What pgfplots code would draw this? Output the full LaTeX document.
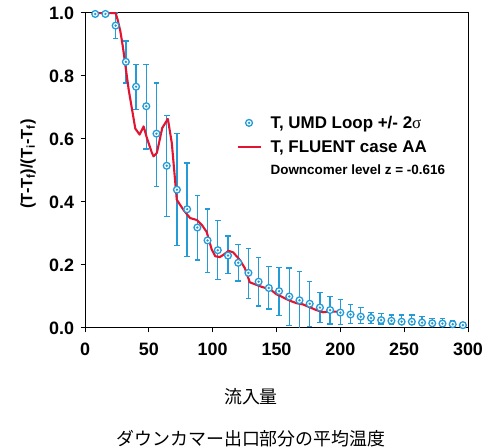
\documentclass[border=0pt]{standalone}
\usepackage{fontspec}
\setmainfont{Liberation Sans}
\newfontfamily\cjk{Noto Sans CJK JP}
\newfontfamily\greek{Liberation Serif}
\usepackage{pgfplots}
\pgfplotsset{compat=1.18}

\definecolor{umdblue}{RGB}{35,155,215}
\definecolor{fluentred}{RGB}{225,20,50}

% ring with a dot in it
\pgfdeclareplotmark{bull}{%
  \pgfsetfillcolor{white}%
  \pgfpathcircle{\pgfpointorigin}{\pgfplotmarksize}%
  \pgfusepathqfillstroke
  \pgfpathcircle{\pgfpointorigin}{0.4\pgfplotmarksize}%
  \pgfsetfillcolor{umdblue}%
  \pgfusepathqfill
}

\begin{document}
\begin{tikzpicture}
\path[use as bounding box] (0,0) rectangle (502bp,448bp);
\begin{axis}[
    at={(85bp,120bp)}, anchor=south west,
    width=383bp, height=315bp, scale only axis,
    xmin=0, xmax=300, ymin=0, ymax=1,
    xtick={0,50,100,150,200,250,300},
    ytick={0,0.2,0.4,0.6,0.8,1},
    xtick pos=bottom, ytick pos=left,
    tick align=outside, major tick length=4.5bp,
    axis line style={line width=1bp},
    tick style={line width=1bp, black},
    ticklabel style={font=\bfseries\fontsize{18}{18}\selectfont},
    xticklabel style={yshift=-7bp},
    yticklabel style={xshift=-3bp},
    /pgf/number format/assume math mode=true,
    yticklabel style={/pgf/number format/.cd, fixed, fixed zerofill, precision=1},
    legend image code/.code={\draw[mark repeat=2,mark phase=2,#1] plot coordinates {(0bp,0bp) (11.5bp,0bp) (23bp,0bp)};},
    legend cell align=left,
    legend style={draw=none, fill=none, at={(rel axis cs:0.395,0.68)}, anchor=north west,
        font=\bfseries\fontsize{17}{19}\selectfont, row sep=7bp, inner sep=0pt,
        /tikz/every odd column/.append style={column sep=7bp}},
]
% red CFD curve first in the legend order is kept by the image below
\addlegendimage{only marks, mark=bull, mark size=3.4bp, umdblue, mark options={draw=umdblue, line width=1.3bp}}
\addlegendentry{T, UMD Loop +/- 2{\greek\mdseries σ}}
\addlegendimage{fluentred, line width=2.1bp}
\addlegendentry{T, FLUENT case AA}
\addlegendimage{empty legend}
\addlegendentry{\fontsize{13.5}{15}\selectfont Downcomer level z = -0.616}

% error bars alone, drawn as plain line segments
\addplot[umdblue, only marks, mark=none, forget plot,
    error bars/.cd, y dir=both, y explicit,
    error mark=-,
    error bar style={color=umdblue, line width=1.3bp},
    error mark options={rotate=90, color=umdblue, mark size=2.8bp, line width=1.3bp}]
coordinates {
(8,0.997) += (0,0.003) -= (0,0.003)
(16,0.997) += (0,0.003) -= (0,0.003)
(24,0.960) += (0,0.040) -= (0,0.041)
(32,0.845) += (0,0.066) -= (0,0.067)
(40,0.766) += (0,0.070) -= (0,0.073)
(48,0.704) += (0,0.133) -= (0,0.136)
(56,0.617) += (0,0.161) -= (0,0.168)
(64,0.515) += (0,0.159) -= (0,0.161)
(72,0.439) += (0,0.178) -= (0,0.177)
(80,0.377) += (0,0.147) -= (0,0.150)
(88,0.319) += (0,0.101) -= (0,0.103)
(96,0.278) += (0,0.100) -= (0,0.102)
(104,0.247) += (0,0.094) -= (0,0.093)
(112,0.230) += (0,0.062) -= (0,0.057)
(120,0.207) += (0,0.059) -= (0,0.058)
(128,0.175) += (0,0.077) -= (0,0.081)
(136,0.147) += (0,0.077) -= (0,0.077)
(144,0.127) += (0,0.068) -= (0,0.067)
(152,0.117) += (0,0.075) -= (0,0.077)
(160,0.100) += (0,0.090) -= (0,0.092)
(168,0.088) += (0,0.091) -= (0,0.092)
(176,0.077) += (0,0.070) -= (0,0.072)
(184,0.065) += (0,0.047) -= (0,0.048)
(192,0.057) += (0,0.044) -= (0,0.044)
(200,0.049) += (0,0.042) -= (0,0.039)
(208,0.043) += (0,0.032) -= (0,0.028)
(216,0.036) += (0,0.029) -= (0,0.021)
(224,0.032) += (0,0.018) -= (0,0.017)
(232,0.025) += (0,0.022) -= (0,0.012)
(240,0.023) += (0,0.018) -= (0,0.010)
(248,0.020) += (0,0.021) -= (0,0.009)
(256,0.020) += (0,0.021) -= (0,0.009)
(264,0.017) += (0,0.019) -= (0,0.006)
(272,0.015) += (0,0.016) -= (0,0.006)
(280,0.014) += (0,0.016) -= (0,0.005)
(288,0.012) += (0,0.011) -= (0,0.006)
(296,0.009) += (0,0.009) -= (0,0.004)
};

% the measured points on top of their bars
\addplot[umdblue, only marks, mark=bull, mark size=3.4bp, forget plot,
    mark options={draw=umdblue, line width=1.3bp}]
coordinates {
(8,0.997) (16,0.997) (24,0.960) (32,0.845) (40,0.766) (48,0.704)
(56,0.617) (64,0.515) (72,0.439) (80,0.377) (88,0.319) (96,0.278)
(104,0.247) (112,0.230) (120,0.207) (128,0.175) (136,0.147) (144,0.127)
(152,0.117) (160,0.100) (168,0.088) (176,0.077) (184,0.065) (192,0.057)
(200,0.049) (208,0.043) (216,0.036) (224,0.032) (232,0.025) (240,0.023)
(248,0.020) (256,0.020) (264,0.017) (272,0.015) (280,0.014) (288,0.012)
(296,0.009)
};

\addplot[fluentred, line width=2.1bp, line join=round, mark=none, forget plot]
coordinates {
(7,1.0) (24,1.0) (25.6,0.978) (27.7,0.942) (29.8,0.889) (31.6,0.835)
(34.2,0.757) (36.8,0.695) (39.4,0.633) (42.8,0.614) (45.9,0.640)
(48.5,0.603) (52.4,0.556) (53.7,0.545) (56.3,0.556) (60.5,0.635)
(64.9,0.664) (68,0.587) (71.9,0.407) (77.1,0.375) (82.3,0.349)
(87.5,0.343) (91.4,0.328) (95.3,0.305) (99.2,0.250) (102,0.228)
(105.5,0.225) (108.3,0.232) (112.5,0.245) (116.1,0.240) (121.3,0.216)
(125.2,0.190) (129.1,0.145) (134.3,0.137) (138.2,0.131) (142.1,0.126)
(146,0.120) (149.9,0.107) (153.8,0.100) (157.7,0.092) (160.3,0.087)
(165.5,0.079) (170.7,0.075) (175.9,0.066) (181.1,0.057) (186.3,0.050)
(191.5,0.052) (196.7,0.052) (201.9,0.048)
};
\end{axis}

\node[rotate=90, font=\bfseries\fontsize{16.5}{16.5}\selectfont] at (28bp,284bp)
    {(T-T\textsubscript{f})/(T\textsubscript{i}-T\textsubscript{f})};
\node[font=\cjk\fontsize{18}{18}\selectfont] at (251bp,51bp) {流入量};
\node[font=\cjk\fontsize{18}{18}\selectfont] at (251bp,9bp) {ダウンカマー出口部分の平均温度};
\end{tikzpicture}
\end{document}
